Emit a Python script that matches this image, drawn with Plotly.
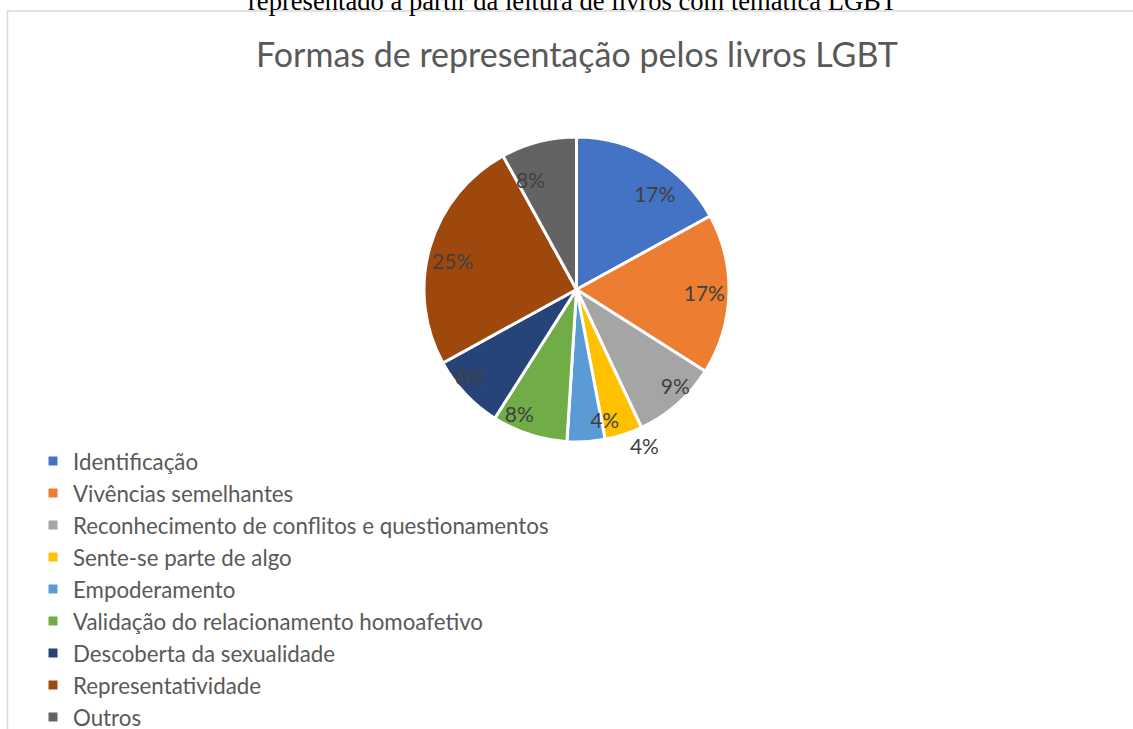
import plotly.graph_objects as go

categories = [
    "Identificação",
    "Vivências semelhantes",
    "Reconhecimento de conflitos e questionamentos",
    "Sente-se parte de algo",
    "Empoderamento",
    "Validação do relacionamento homoafetivo",
    "Descoberta da sexualidade",
    "Representatividade",
    "Outros",
]
percentages = [17, 17, 9, 4, 4, 8, 8, 25, 8]
colors = ["#4472C4", "#ED7D31", "#A5A5A5", "#FFC000", "#5B9BD5",
          "#70AD47", "#264478", "#9E480E", "#636363"]
# label placement group: "out" = outside the pie, "hi" = upper ring, "lo" = lower ring
label_group = ["hi", "hi", "lo", "out", "lo", "lo", "lo", "hi", "hi"]

W, H = 1133, 729
cx, cy, r = 576.5, 289.5, 152.5
ring_radius = {"hi": 101, "lo": 118}  # helper pies used to position the labels


def dom(rad):
    return dict(x=[(cx - rad) / W, (cx + rad) / W],
                y=[1 - (cy + rad) / H, 1 - (cy - rad) / H])


label_font = dict(family="Lato", size=21, color="#404040")

fig = go.Figure()
fig.add_trace(go.Pie(
    labels=categories,
    values=percentages,
    sort=False,
    direction="clockwise",
    rotation=0,
    marker=dict(colors=colors, line=dict(color="white", width=3)),
    texttemplate="%{percent:.0%}",
    textposition=["outside" if g == "out" else "none" for g in label_group],
    textfont=label_font,
    domain=dom(r),
    hoverinfo="label+percent",
))
for grp, rad in ring_radius.items():
    fig.add_trace(go.Pie(
        labels=categories,
        values=percentages,
        sort=False,
        direction="clockwise",
        rotation=0,
        marker=dict(colors=["rgba(0,0,0,0)"] * len(categories), line=dict(width=0)),
        texttemplate="%{percent:.0%}",
        textposition=["outside" if g == grp else "none" for g in label_group],
        textfont=label_font,
        domain=dom(rad),
        showlegend=False,
        hoverinfo="skip",
    ))

fig.update_layout(
    width=W, height=H,
    margin=dict(l=0, r=0, t=0, b=0, autoexpand=False),
    paper_bgcolor="white",
    plot_bgcolor="white",
    title=dict(text="Formas de representação pelos livros LGBT",
               x=577 / W, xanchor="center", y=1 - 55 / H, yanchor="middle",
               font=dict(family="Lato", size=34, color="#595959")),
    legend=dict(x=33 / W, xanchor="left", y=1 - 440 / H, yanchor="top",
                font=dict(family="Lato", size=22.3, color="#595959"),
                bgcolor="rgba(0,0,0,0)", traceorder="normal"),
    shapes=[dict(type="rect", xref="paper", yref="paper",
                 x0=7.5 / W, x1=1.02, y0=-0.02, y1=1 - 11 / H,
                 line=dict(color="#D9D9D9", width=1.5))],
    annotations=[dict(text="representado a partir da leitura de livros com temática LGBT",
                      xref="paper", yref="paper", x=572.5 / W, y=1, yanchor="bottom",
                      yshift=-18.5, showarrow=False,
                      font=dict(family="Liberation Serif", size=26.6, color="black"))],
)

fig.write_html("out.html", config={"displayModeBar": False},
               post_script="document.body.style.margin='0px';")
